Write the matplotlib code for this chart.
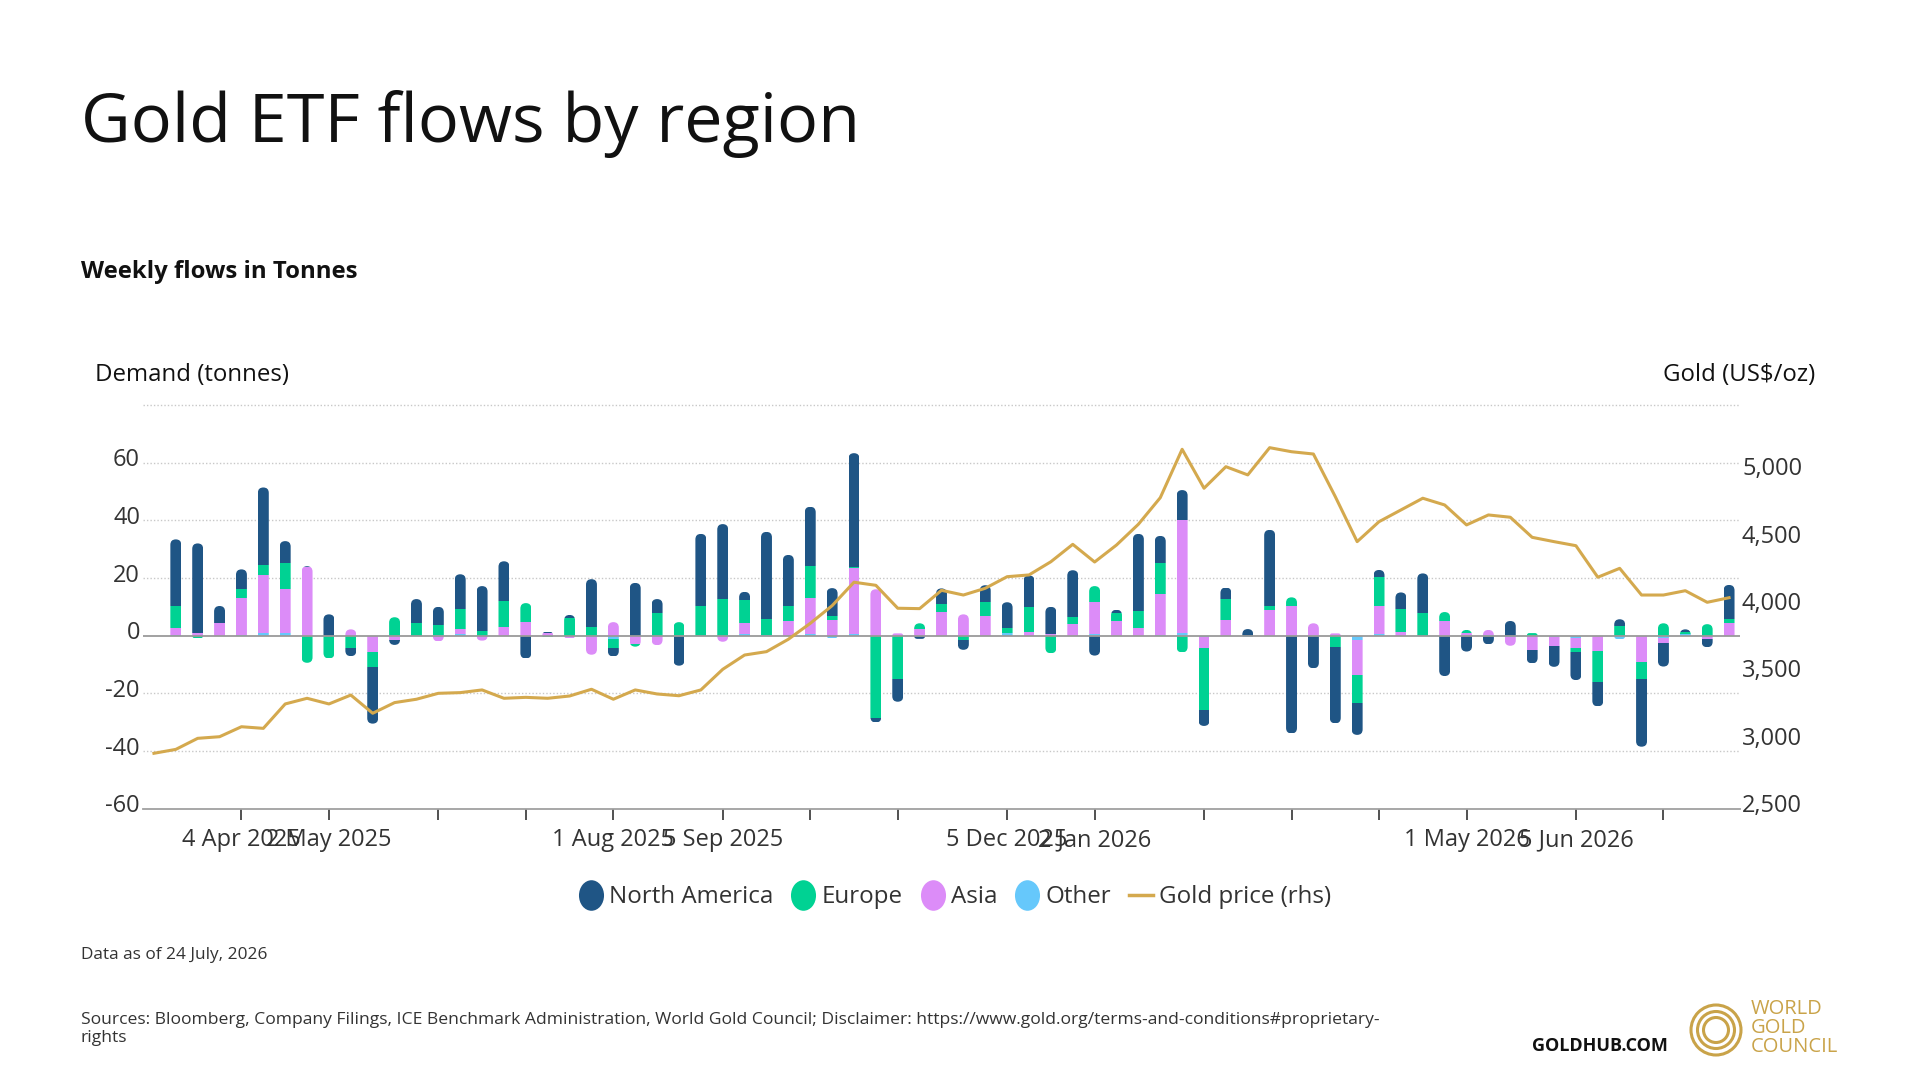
import numpy as np
import pandas as pd
import matplotlib
matplotlib.use("Agg")
import matplotlib.pyplot as plt
from matplotlib.patches import FancyBboxPatch, Circle
from matplotlib.patches import BoxStyle
from matplotlib.lines import Line2D
from matplotlib.path import Path
from matplotlib.markers import MarkerStyle
from matplotlib.transforms import ScaledTranslation, blended_transform_factory

plt.rcParams['font.family'] = ['Open Sans', 'DejaVu Sans']

# ---------------- data ----------------
weeks = pd.date_range("2025-03-07", "2026-07-24", freq="7D")

north_america = [0, 23.2, 31.1, 5.8, 6.9, 26.9, 7.5, 0.3, 7.4, -2.9, -19.7, -1.7, 8.2, 6.2, 12.1,
                 15.5, 13.8, -7.9, 0.4, 1.2, 16.5, -2.9, 18.3, 4.7, -10.4, 25.0, 26.0, 2.8, 30.1,
                 17.7, 20.7, 9.7, 39.4, -1.4, -7.9, -1.1, 5.4, -3.5, 5.8, 9.0, 10.9, 9.5, 16.3,
                 -6.9, 1.3, 26.9, 9.4, 10.4, -5.7, 4.0, 2.3, 26.4, -33.9, -11.3, -26.4, -11.0,
                 2.4, 5.7, 13.6, -14.0, -5.5, -3.0, 5.1, -4.7, -7.3, -9.8, -8.3, 2.3, -23.5,
                 -8.2, 0.8, -2.8, 11.8]
europe = [0, 7.6, -0.9, 0, 3.1, 3.5, 9.1, -9.4, -7.9, -4.2, -5.0, 6.4, 4.5, 3.5, 6.9, 1.7, 9.0,
          6.6, -0.6, 6.0, 3.1, -3.1, -0.9, 8.0, 4.7, 10.3, 12.7, 8.0, 5.5, 5.2, 11.0, 1.4, 0.3,
          -28.7, -15.0, 2.0, 2.8, -1.4, 4.9, 1.7, 8.8, -6.1, 2.4, 5.5, 2.7, 5.7, 10.8, -5.8,
          -21.2, 7.3, 0, 1.4, 3.0, 0, -4.0, -9.8, 10.1, 8.0, 8.0, 3.1, 1.2, 0, 0, 0.9, 0,
          -1.2, -11.0, 3.4, -5.8, 4.3, 0.8, 4.0, 1.5]
asia = [0, 2.3, 0.9, 4.5, 12.7, 20.2, 15.4, 23.8, 0, 2.2, -5.8, -1.5, 0, -2.0, 1.8, -1.7, 3.0,
        4.7, 1.0, -0.9, -6.3, 4.7, -2.9, -3.3, 0, 0, -2.1, 3.9, 0, 5.1, 12.5, 5.4, 23.1, 16.1,
        0.8, 2.3, 8.2, 7.4, 6.8, 0, 1.2, 0.5, 4.0, 11.0, 5.0, 2.7, 14.2, 39.3, -4.0, 5.4, 0,
        8.9, 10.3, 4.3, 0.8, -12.1, 9.8, 1.3, 0, 5.1, 0.8, 1.7, -3.0, -4.9, -2.9, -3.6, -5.2,
        0, -9.2, -1.6, 0, -1.2, 4.3]
other = [0, 0.3, 0, 0, 0.3, 0.8, 0.8, 0, 0, 0, 0, 0, 0, 0.3, 0.5, 0, 0, 0, 0, 0, -0.3, -1.2,
         0, 0, 0, 0, 0, 0.5, 0.4, 0, 0.5, -0.9, 0.5, 0, 0, 0, 0, 0, 0, 0.9, 0, 0, 0, 0.7, 0,
         0, 0.2, 0.8, -0.4, 0, -0.5, 0, 0, 0, 0, -1.5, 0.5, 0, 0, 0, 0, 0.3, -0.5, 0, -0.6,
         -0.8, 0, -1.2, 0, -0.9, 0.6, 0, 0]
gold_price = [2911, 2940, 3022, 3034, 3108, 3096, 3277, 3319, 3277, 3343,
              3208, 3287, 3312, 3356, 3361, 3381, 3319, 3326, 3319, 3336,
              3386, 3312, 3381, 3351, 3338, 3381, 3534, 3640, 3665, 3757,
              3875, 4006, 4180, 4157, 3987, 3984, 4120, 4085, 4135, 4221,
              4234, 4332, 4461, 4330, 4456, 4610, 4807, 5166, 4877, 5037,
              4976, 5178, 5148, 5131, 4815, 4481, 4629, 4716, 4803, 4753,
              4605, 4679, 4662, 4513, 4481, 4451, 4217, 4283, 4085, 4085,
              4117, 4031, 4065]

tick_dates = ["2025-04-04", "2025-05-02", "2025-06-06", "2025-07-04", "2025-08-01",
              "2025-09-05", "2025-10-03", "2025-10-31", "2025-12-05", "2026-01-02",
              "2026-02-06", "2026-03-06", "2026-04-03", "2026-05-01", "2026-06-05",
              "2026-07-03"]
tick_labels = ["4 Apr 2025", "2 May 2025", "", "", "1 Aug 2025", "5 Sep 2025", "", "",
               "5 Dec 2025", "2 Jan 2026", "", "", "", "1 May 2026", "5 Jun 2026", ""]

left_ticks = [-60, -40, -20, 0, 20, 40, 60]
left_labels = ["-60", "-40", "-20", "0", "20", "40", "60"]
right_ticks = [2500, 3000, 3500, 4000, 4500, 5000]
right_labels = ["2,500", "3,000", "3,500", "4,000", "4,500", "5,000"]

series_names = ["Other", "Asia", "Europe", "North America"]   # stacking order from zero
series_vals = [other, asia, europe, north_america]
colors = {"North America": "#1f5585", "Europe": "#00d293", "Asia": "#dc8cf8",
          "Other": "#66c8fb"}
gold_color = "#d4a94e"
text_color = "#333333"

# ---------------- figure ----------------
W, H = 1920, 1080
fig = plt.figure(figsize=(W / 100, H / 100), dpi=100)
ax_l, ax_r, ax_b, ax_t = 143, 1740, 808.7, 404
ax = fig.add_axes([ax_l / W, 1 - ax_b / H, (ax_r - ax_l) / W, (ax_b - ax_t) / H])

n = len(weeks)
x = np.arange(n)
xlim = (-0.5, n - 0.5)
ylim = (-60, 80.35)
ax.set_xlim(*xlim)
ax.set_ylim(*ylim)

px_x = (ax_r - ax_l) / (xlim[1] - xlim[0])
px_y = (ax_b - ax_t) / (ylim[1] - ylim[0])
aspect = px_x / px_y
bw = 0.5
rad = 0.25

vals = np.array(series_vals, dtype=float)
pos = np.clip(vals, 0, None)
neg = np.clip(vals, None, 0)
pos_tot = pos.sum(axis=0)
neg_tot = neg.sum(axis=0)

clip_pos, clip_neg = [], []
for i in range(n):
    r = min(rad, pos_tot[i] / aspect) if pos_tot[i] > 0 else rad
    cp = FancyBboxPatch((i - bw / 2, -4), bw, pos_tot[i] + 4,
                        boxstyle=BoxStyle.Round(pad=0, rounding_size=max(r, 0.02)),
                        mutation_aspect=aspect, transform=ax.transData)
    r2 = min(rad, -neg_tot[i] / aspect) if neg_tot[i] < 0 else rad
    cn = FancyBboxPatch((i - bw / 2, neg_tot[i]), bw, -neg_tot[i] + 4,
                        boxstyle=BoxStyle.Round(pad=0, rounding_size=max(r2, 0.02)),
                        mutation_aspect=aspect, transform=ax.transData)
    clip_pos.append(cp)
    clip_neg.append(cn)

pb = np.zeros(n)
nb = np.zeros(n)
for k, name in enumerate(series_names):
    p = pos[k]
    q = neg[k]
    bars_p = ax.bar(x, p, bw, bottom=pb, color=colors[name], linewidth=0, zorder=3)
    bars_n = ax.bar(x, q, bw, bottom=nb, color=colors[name], linewidth=0, zorder=3)
    for i, b in enumerate(bars_p):
        b.set_clip_path(clip_pos[i])
    for i, b in enumerate(bars_n):
        b.set_clip_path(clip_neg[i])
    pb += p
    nb += q

# grid
for v in [-40, -20, 20, 40, 60, 80]:
    ax.axhline(v, color="#c8c8c8", lw=1.0, ls=(0, (1, 1.5)), zorder=1)
ax.axhline(0, color="#9a9a9a", lw=1.3, zorder=4)
for s in ["top", "left", "right"]:
    ax.spines[s].set_visible(False)
ax.spines["bottom"].set_color("#a0a0a0")
ax.spines["bottom"].set_linewidth(1.3)

# y tick labels (drawn slightly above their gridlines, as in the reference)
up = ScaledTranslation(0, 2.5 / 100, fig.dpi_scale_trans)
ax.set_yticks([])
tl = blended_transform_factory(ax.transAxes, ax.transData)
for v, s in zip(left_ticks, left_labels):
    ax.text(-3 / (ax_r - ax_l), v, s, transform=tl + up, ha="right", va="center",
            fontsize=17, color=text_color)

tick_pos = [weeks.get_loc(pd.Timestamp(d)) for d in tick_dates]
ax.set_xticks(tick_pos)
ax.set_xticklabels(tick_labels)
ax.tick_params(axis="x", length=8, width=1.2, color="#333333", pad=6,
               labelsize=17, labelcolor=text_color)

ax2 = ax.twinx()
ax2.set_ylim(2500, 5502)
ax2.plot(x, gold_price, color=gold_color, lw=2.2, zorder=5, solid_joinstyle="round")
ax2.set_yticks([])
tr = blended_transform_factory(ax2.transAxes, ax2.transData)
for v, s in zip(right_ticks, right_labels):
    ax2.text(1 + 2 / (ax_r - ax_l), v, s, transform=tr + up, ha="left", va="center",
             fontsize=17, color=text_color, clip_on=False)
for s in ["top", "left", "right", "bottom"]:
    ax2.spines[s].set_visible(False)

# ---------------- texts ----------------
fig.text(81 / W, 1 - 142 / H, "Gold ETF flows by region", fontsize=49.2, color="#111111",
         va="baseline", ha="left")
fig.text(81 / W, 1 - 278 / H, "Weekly flows in Tonnes", fontsize=17.2, fontweight="bold",
         color="#111111", va="baseline", ha="left")
fig.text(95 / W, 1 - 381 / H, "Demand (tonnes)", fontsize=17.3, color="#111111",
         va="baseline", ha="left")
fig.text(1815 / W, 1 - 381 / H, "Gold (US$/oz)", fontsize=17.3, color="#111111",
         va="baseline", ha="right")
fig.text(81 / W, 1 - 959 / H, "Data as of 24 July, 2026", fontsize=12.4, color=text_color,
         va="baseline", ha="left")
fig.text(81 / W, 1 - 1042 / H,
         "Sources: Bloomberg, Company Filings, ICE Benchmark Administration, World Gold Council; "
         "Disclaimer: https://www.gold.org/terms-and-conditions#proprietary-\nrights",
         fontsize=12.6, color=text_color, va="baseline", ha="left", linespacing=1.2)
fig.text(1668 / W, 1 - 1051 / H, "GOLDHUB.COM", fontsize=13, fontweight="bold",
         color="#111111", va="baseline", ha="right")

# legend
circ = Path.unit_circle()
ell = Path(circ.vertices * np.array([0.82, 1.0]), circ.codes)
handles = [Line2D([], [], marker=MarkerStyle(ell), ls="none", markersize=22,
                  markerfacecolor=colors[nm], markeredgewidth=0)
           for nm in ["North America", "Europe", "Asia", "Other"]]
handles.append(Line2D([], [], color=gold_color, lw=2.5))
labels = ["North America", "Europe", "Asia", "Other", "Gold price (rhs)"]
fig.legend(handles, labels, loc="center", bbox_to_anchor=(955 / W, 1 - 897 / H), ncol=5,
           frameon=False, fontsize=17.4, handlelength=1.0, handletextpad=0.25,
           columnspacing=0.75, labelcolor=text_color)

# logo
lax = fig.add_axes([1680 / W, 1 - 1066 / H, 72 / W, 72 / H])
lax.set_xlim(-36, 36)
lax.set_ylim(-36, 36)
lax.set_aspect("equal")
lax.axis("off")
for rr in [25, 18.5, 12.5]:
    lax.add_patch(Circle((0, 0), rr, fill=False, ec="#c9a349", lw=2.2))
for j, word in enumerate(["WORLD", "GOLD", "COUNCIL"]):
    fig.text(1751 / W, 1 - (1014 + j * 19) / H, word, fontsize=14.5, color="#c9a349",
             va="baseline", ha="left")

fig.savefig("out.png", dpi=100)
